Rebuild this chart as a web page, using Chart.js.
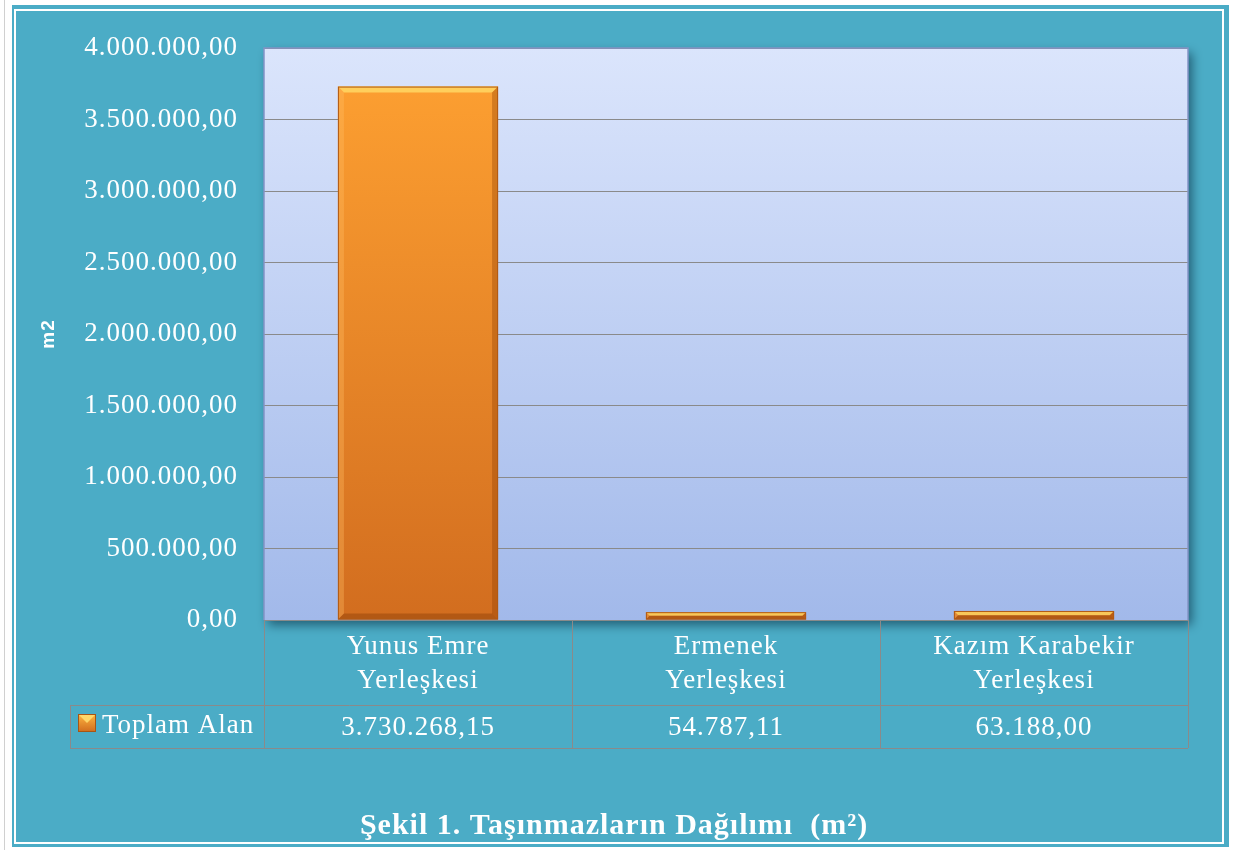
<!DOCTYPE html>
<html>
<head>
<meta charset="utf-8">
<script src="https://cdn.jsdelivr.net/npm/chart.js@4.4.1/dist/chart.umd.min.js"></script>
<style>
  html, body { margin: 0; padding: 0; background: #ffffff; }
  canvas { display: block; }
</style>
</head>
<body>
<canvas id="c" width="1234" height="850"></canvas>
<script>
// ---- data ----
const categories = [["Yunus Emre", "Yerleşkesi"], ["Ermenek", "Yerleşkesi"], ["Kazım Karabekir", "Yerleşkesi"]];
const seriesName = "Toplam Alan";
const toplamAlan = [3730268.15, 54787.11, 63188.00];
const yTickValues = [0, 500000, 1000000, 1500000, 2000000, 2500000, 3000000, 3500000, 4000000];
const yAxisTitle = "m2";
const chartTitle = "Şekil 1. Taşınmazların Dağılımı  (m²)";

function fmtTR(v) {
  const parts = v.toFixed(2).split('.');
  return parts[0].replace(/\B(?=(\d{3})+(?!\d))/g, '.') + ',' + parts[1];
}

const TEAL = '#4BACC6';
const SERIF = '"Liberation Serif", "Times New Roman", serif';
const GRID = '#8a8a8a';

const bgPlugin = {
  id: 'bgPlugin',
  beforeDraw(chart) {
    const ctx = chart.ctx;
    ctx.letterSpacing = '1px';
    const W = chart.width, H = chart.height;
    ctx.save();
    ctx.fillStyle = '#ffffff';
    ctx.fillRect(0, 0, W, H);
    ctx.strokeStyle = '#d0d0d0';
    ctx.lineWidth = 1;
    ctx.beginPath(); ctx.moveTo(4.5, 0); ctx.lineTo(4.5, H); ctx.stroke();
    ctx.fillStyle = TEAL;
    ctx.fillRect(12, 5, 1217, 842);
    ctx.strokeStyle = '#ffffff';
    ctx.lineWidth = 2;
    ctx.strokeRect(15, 10, 1208, 833);
    // plot area with shadow
    const a = chart.chartArea;
    const g = ctx.createLinearGradient(0, a.top, 0, a.bottom);
    g.addColorStop(0, '#dbe5fc');
    g.addColorStop(1, '#a2b9ea');
    ctx.shadowColor = 'rgba(0,30,50,0.55)';
    ctx.shadowBlur = 10;
    ctx.shadowOffsetX = 4;
    ctx.shadowOffsetY = 5;
    ctx.fillStyle = g;
    ctx.fillRect(a.left, a.top, a.right - a.left, a.bottom - a.top);
    ctx.restore();
    ctx.letterSpacing = '1px';
  },
  afterDatasetsDraw(chart) {
    const ctx = chart.ctx;
    const meta = chart.getDatasetMeta(0);
    meta.data.forEach(bar => {
      const p = bar.getProps(['x', 'y', 'base', 'width'], true);
      const l = p.x - p.width / 2, r = p.x + p.width / 2, t = p.y, b = p.base;
      const s = Math.min(6, (b - t) / 2);
      const poly = (pts, col) => {
        ctx.beginPath(); ctx.moveTo(pts[0][0], pts[0][1]);
        for (let i = 1; i < pts.length; i++) ctx.lineTo(pts[i][0], pts[i][1]);
        ctx.closePath(); ctx.fillStyle = col; ctx.fill();
      };
      ctx.save();
      poly([[l, t], [r, t], [r - s, t + s], [l + s, t + s]], 'rgba(255,215,100,0.85)');
      poly([[l, t], [l + s, t + s], [l + s, b - s], [l, b]], 'rgba(255,190,100,0.35)');
      poly([[r, t], [r, b], [r - s, b - s], [r - s, t + s]], 'rgba(140,60,0,0.35)');
      poly([[l, b], [r, b], [r - s, b - s], [l + s, b - s]], 'rgba(120,50,0,0.35)');
      ctx.strokeStyle = '#b05a14';
      ctx.lineWidth = 1;
      ctx.strokeRect(l + 0.5, t + 0.5, r - l - 1, b - t - 1);
      ctx.restore();
    });
  },
  afterDraw(chart) {
    const ctx = chart.ctx;
    const a = chart.chartArea;
    const xs = chart.scales.x;
    ctx.save();
    ctx.letterSpacing = '1px';
    // plot border (top/left/right)
    ctx.strokeStyle = '#8494c6';
    ctx.lineWidth = 1.5;
    ctx.beginPath();
    ctx.moveTo(a.left, a.bottom); ctx.lineTo(a.left, a.top); ctx.lineTo(a.right, a.top); ctx.lineTo(a.right, a.bottom);
    ctx.stroke();
    // data table
    const rowTop = xs.bottom;          // end of category row
    const rowBottom = rowTop + 43;
    const legendLeft = 70;
    const half = (xs.getPixelForValue(1) - xs.getPixelForValue(0)) / 2;
    ctx.strokeStyle = GRID;
    ctx.lineWidth = 1;
    ctx.beginPath();
    const bounds = [];
    for (let i = 0; i < categories.length; i++) bounds.push(xs.getPixelForValue(i) - half);
    bounds.push(xs.getPixelForValue(categories.length - 1) + half);
    bounds.forEach(bx => { const px = Math.round(bx) + 0.5; ctx.moveTo(px, a.bottom); ctx.lineTo(px, rowBottom); });
    ctx.moveTo(legendLeft + 0.5, rowTop); ctx.lineTo(legendLeft + 0.5, rowBottom);
    ctx.moveTo(legendLeft, Math.round(rowTop) + 0.5); ctx.lineTo(a.right, Math.round(rowTop) + 0.5);
    ctx.moveTo(legendLeft, Math.round(rowBottom) + 0.5); ctx.lineTo(a.right, Math.round(rowBottom) + 0.5);
    ctx.stroke();
    // values
    ctx.fillStyle = '#ffffff';
    ctx.font = '27px ' + SERIF;
    ctx.textAlign = 'center';
    ctx.textBaseline = 'alphabetic';
    toplamAlan.forEach((v, i) => ctx.fillText(fmtTR(v), xs.getPixelForValue(i), rowTop + 30));
    // legend key
    const kx = 78, ky = rowTop + 9, ks = 18;
    const kg = ctx.createLinearGradient(0, ky, 0, ky + ks);
    kg.addColorStop(0, '#ffb640'); kg.addColorStop(1, '#d06c1e');
    ctx.fillStyle = kg; ctx.fillRect(kx, ky, ks, ks);
    ctx.fillStyle = 'rgba(255,220,110,0.9)';
    ctx.beginPath(); ctx.moveTo(kx, ky); ctx.lineTo(kx + ks, ky); ctx.lineTo(kx + ks / 2, ky + ks / 2); ctx.closePath(); ctx.fill();
    ctx.strokeStyle = '#a85514'; ctx.strokeRect(kx + 0.5, ky + 0.5, ks - 1, ks - 1);
    ctx.fillStyle = '#ffffff';
    ctx.textAlign = 'left';
    ctx.fillText(seriesName, 102, rowTop + 28);
    // chart title
    ctx.font = 'bold 30px ' + SERIF;
    ctx.textAlign = 'center';
    ctx.fillText(chartTitle, 614, 834);
    ctx.restore();
  }
};

const barGradient = (context) => {
  const chart = context.chart;
  const a = chart.chartArea;
  if (!a) return '#f08a28';
  const g = chart.ctx.createLinearGradient(0, a.top, 0, a.bottom);
  g.addColorStop(0, '#ffa232');
  g.addColorStop(1, '#d26d1f');
  return g;
};

new Chart(document.getElementById('c'), {
  type: 'bar',
  data: {
    labels: categories,
    datasets: [{
      label: seriesName,
      data: toplamAlan,
      backgroundColor: barGradient,
      borderWidth: 0,
      barPercentage: 0.52,
      categoryPercentage: 1.0
    }]
  },
  options: {
    responsive: false,
    animation: false,
    devicePixelRatio: 1,
    layout: { padding: { left: 0, top: 48, right: 46, bottom: 145 } },
    plugins: {
      legend: { display: false },
      title: { display: false },
      tooltip: { enabled: false }
    },
    scales: {
      x: {
        grid: { display: false, drawTicks: false },
        border: { display: true, color: GRID, width: 1 },
        ticks: {
          color: '#ffffff',
          font: { family: SERIF, size: 27, lineHeight: 1.26 },
          padding: 10,
          maxRotation: 0,
          autoSkip: false
        },
        afterFit(scale) { scale.height = 85; }
      },
      y: {
        min: 0,
        max: 4000000,
        afterBuildTicks(scale) { scale.ticks = yTickValues.map(v => ({ value: v })); },
        grid: { color: GRID, drawTicks: false, lineWidth: 1 },
        border: { display: false },
        ticks: {
          color: '#ffffff',
          font: { family: SERIF, size: 27 },
          padding: 26,
          callback: (v) => fmtTR(v)
        },
        title: {
          display: true,
          text: yAxisTitle,
          color: '#ffffff',
          font: { family: '"Liberation Sans", Arial, sans-serif', size: 19, weight: 'bold' },
          padding: { top: 37, bottom: 0 }
        },
        afterFit(scale) { scale.width = 264; }
      }
    }
  },
  plugins: [bgPlugin]
});
</script>
</body>
</html>
